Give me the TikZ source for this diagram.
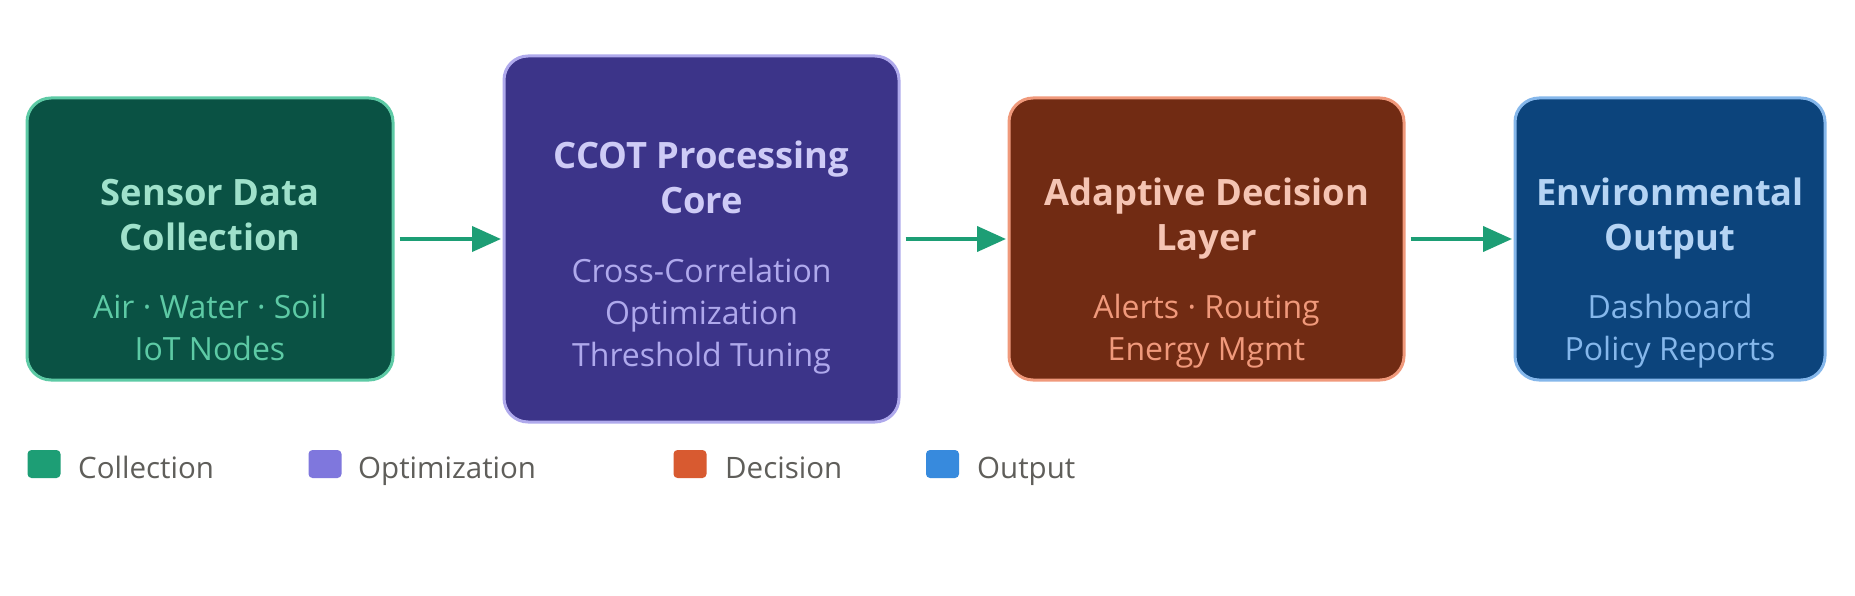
\documentclass[tikz,border=0pt]{standalone}
\usepackage{fontspec}
\setmainfont{Open Sans}
\usetikzlibrary{arrows.meta}
\definecolor{gFill}{HTML}{0A5244}
\definecolor{gLine}{HTML}{5DCAA5}
\definecolor{gTitle}{HTML}{9FE1CB}
\definecolor{gSub}{HTML}{5DCAA5}
\definecolor{pFill}{HTML}{3C3489}
\definecolor{pLine}{HTML}{AFA9EC}
\definecolor{pTitle}{HTML}{CECBF6}
\definecolor{pSub}{HTML}{AFA9EC}
\definecolor{oFill}{HTML}{712B13}
\definecolor{oLine}{HTML}{F0997B}
\definecolor{oTitle}{HTML}{F5C4B3}
\definecolor{oSub}{HTML}{F0997B}
\definecolor{bFill}{HTML}{0C447C}
\definecolor{bLine}{HTML}{85B7EB}
\definecolor{bTitle}{HTML}{B5D4F4}
\definecolor{bSub}{HTML}{85B7EB}
\definecolor{arrowC}{HTML}{1D9E75}
\definecolor{legG}{HTML}{1D9E75}
\definecolor{legP}{HTML}{7F77DD}
\definecolor{legO}{HTML}{D85A30}
\definecolor{legB}{HTML}{378ADD}
\definecolor{legText}{HTML}{5F5E5A}
\begin{document}
\begin{tikzpicture}[x=1pt,y=-1pt,
  box/.style={rectangle, rounded corners=24pt, line width=3pt, inner sep=0pt},
  ttl/.style={anchor=base, inner sep=0pt, font=\fontsize{36.3}{42}\selectfont\bfseries},
  sub/.style={anchor=base, inner sep=0pt, font=\fontsize{32}{36}\selectfont},
  arr/.style={draw=arrowC, line width=4pt, -{Triangle[length=29pt,width=25pt]}},
  legsq/.style={rectangle, rounded corners=4pt, minimum width=33pt, minimum height=28pt, inner sep=0pt},
  legtx/.style={anchor=base west, inner sep=0pt, text=legText, font=\fontsize{29.5}{34}\selectfont}
]
\useasboundingbox (0,0) rectangle (1855,596);
\fill[white] (0,0) rectangle (1855,596);

% boxes
\node[box, fill=gFill, draw=gLine, minimum width=366pt, minimum height=282pt] (b1) at (210,239) {};
\node[box, fill=pFill, draw=pLine, minimum width=395pt, minimum height=366pt] (b2) at (701.5,239) {};
\node[box, fill=oFill, draw=oLine, minimum width=395pt, minimum height=282pt] (b3) at (1206.5,239) {};
\node[box, fill=bFill, draw=bLine, minimum width=310pt, minimum height=282pt] (b4) at (1670,239) {};

% texts box 1
\node[ttl, text=gTitle] (t1a) at (210,206) {Sensor Data};
\node[ttl, text=gTitle] (t1b) at (210,251) {Collection};
\node[sub, text=gSub] (s1a) at (210,318) {Air · Water · Soil};
\node[sub, text=gSub] (s1b) at (210,360) {IoT Nodes};

% texts box 2
\node[ttl, text=pTitle] (t2a) at (701.5,169) {CCOT Processing};
\node[ttl, text=pTitle] (t2b) at (701.5,214) {Core};
\node[sub, text=pSub] (s2a) at (701.5,282) {Cross-Correlation};
\node[sub, text=pSub] (s2b) at (701.5,324) {Optimization};
\node[sub, text=pSub] (s2c) at (701.5,366) {Threshold Tuning};

% texts box 3
\node[ttl, text=oTitle] (t3a) at (1206.5,206) {Adaptive Decision};
\node[ttl, text=oTitle] (t3b) at (1206.5,251) {Layer};
\node[sub, text=oSub] (s3a) at (1206.5,318) {Alerts · Routing};
\node[sub, text=oSub] (s3b) at (1206.5,360) {Energy Mgmt};

% texts box 4
\node[ttl, text=bTitle] (t4a) at (1670,206) {Environmental};
\node[ttl, text=bTitle] (t4b) at (1670,251) {Output};
\node[sub, text=bSub] (s4a) at (1670,318) {Dashboard};
\node[sub, text=bSub] (s4b) at (1670,360) {Policy Reports};

% arrows
\draw[arr] ([xshift=5pt]b1.east) -- ([xshift=-1.5pt]b2.west);
\draw[arr] ([xshift=5pt]b2.east) -- ([xshift=-1.5pt]b3.west);
\draw[arr] ([xshift=5pt]b3.east) -- ([xshift=-1.5pt]b4.west);

% legend
\node[legsq, fill=legG] (l1) at (44,464) {};
\node[legtx] (l1t) at (78,478) {Collection};
\node[legsq, fill=legP] (l2) at (325,464) {};
\node[legtx] (l2t) at (358,478) {Optimization};
\node[legsq, fill=legO] (l3) at (690,464) {};
\node[legtx] (l3t) at (725,478) {Decision};
\node[legsq, fill=legB] (l4) at (942.5,464) {};
\node[legtx] (l4t) at (977,478) {Output};
\end{tikzpicture}
\end{document}
